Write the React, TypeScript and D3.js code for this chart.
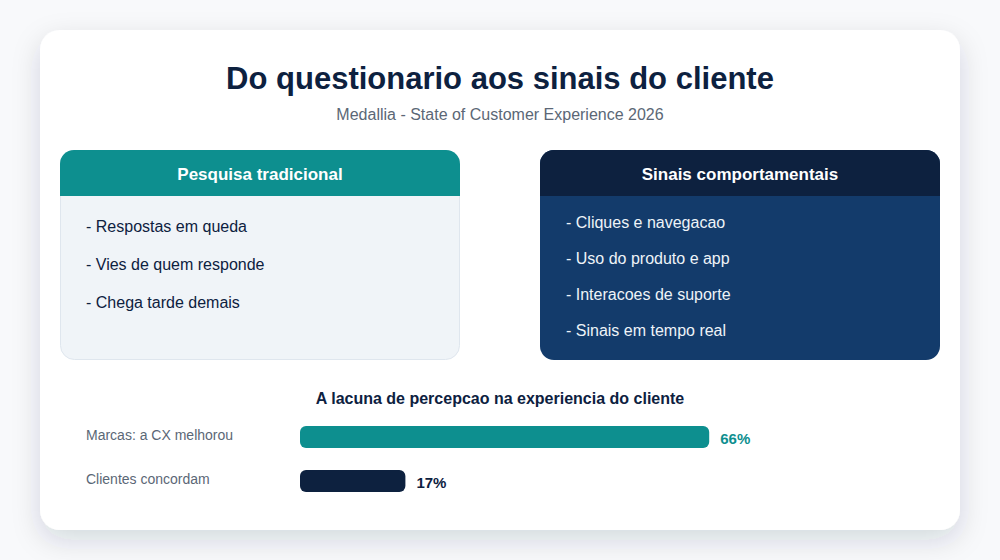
import React from "react";
import * as d3 from "d3";

const TITLE = "Do questionario aos sinais do cliente";
const SUBTITLE = "Medallia - State of Customer Experience 2026";
const LEFT_HEADER = "Pesquisa tradicional";
const RIGHT_HEADER = "Sinais comportamentais";
const leftItems = ["- Respostas em queda", "- Vies de quem responde", "- Chega tarde demais"];
const rightItems = ["- Cliques e navegacao", "- Uso do produto e app", "- Interacoes de suporte", "- Sinais em tempo real"];
const GAP_TITLE = "A lacuna de percepcao na experiencia do cliente";
const gapLabels = ["Marcas: a CX melhorou", "Clientes concordam"];
const gapValues = [66, 17];

const TEAL = "#0d8f8f";
const NAVY = "#0d213f";
const BLUE = "#133b6b";
const GREY = "#5b6776";
const FONT = '"Liberation Sans", Arial, Helvetica, sans-serif';

const barColors = [TEAL, NAVY];

function topRounded(x: number, y: number, w: number, h: number, r: number) {
  const p = d3.path();
  p.moveTo(x, y + h);
  p.lineTo(x, y + r);
  p.arcTo(x, y, x + r, y, r);
  p.lineTo(x + w - r, y);
  p.arcTo(x + w, y, x + w, y + r, r);
  p.lineTo(x + w, y + h);
  p.closePath();
  return p.toString();
}

export default function App() {
  const xScale = d3.scaleLinear().domain([0, 100]).range([300, 920]);
  const yScale = d3.scaleBand<string>().domain(gapLabels).range([426, 492]).paddingInner(0.5);
  const bh = yScale.bandwidth();

  return (
    <svg
      width={1000}
      height={560}
      viewBox="0 0 1000 560"
      style={{ position: "absolute", left: 0, top: 0, display: "block" }}
      fontFamily={FONT}
    >
      <defs>
        <filter id="cardShadow" x="-10%" y="-10%" width="120%" height="130%">
          <feDropShadow dx="0" dy="10" stdDeviation="14" floodColor="#0d213f" floodOpacity="0.15" />
        </filter>
      </defs>
      <rect x={0} y={0} width={1000} height={560} fill="#f8f9fb" />
      <rect x={40} y={30} width={920} height={500} rx={20} fill="#ffffff" filter="url(#cardShadow)" />

      <text x={500} y={88.5} textAnchor="middle" fontSize={31} fontWeight={700} fill={NAVY}>{TITLE}</text>
      <text x={500} y={120} textAnchor="middle" fontSize={16} fill={GREY}>{SUBTITLE}</text>

      {/* left panel */}
      <rect x={60.5} y={150.5} width={399} height={209} rx={14} fill="#f0f4f8" stroke="#dfe6ee" />
      <path d={topRounded(60, 150, 400, 46, 14)} fill={TEAL} />
      <text x={260} y={180} textAnchor="middle" fontSize={17} fontWeight={700} fill="#ffffff">{LEFT_HEADER}</text>
      {leftItems.map((t, i) => (
        <text key={t} x={86} y={232 + i * 38} fontSize={16} fill={NAVY}>{t}</text>
      ))}

      {/* right panel */}
      <rect x={540} y={150} width={400} height={210} rx={14} fill={BLUE} />
      <path d={topRounded(540, 150, 400, 46, 14)} fill={NAVY} />
      <text x={740} y={180} textAnchor="middle" fontSize={17} fontWeight={700} fill="#ffffff">{RIGHT_HEADER}</text>
      {rightItems.map((t, i) => (
        <text key={t} x={566} y={228 + i * 36} fontSize={16} fill="#eef3f8">{t}</text>
      ))}

      {/* gap chart */}
      <text x={500} y={404} textAnchor="middle" fontSize={16} fontWeight={700} fill={NAVY}>{GAP_TITLE}</text>
      {gapLabels.map((l, i) => {
        const x1 = xScale(gapValues[i]);
        const y = yScale(l) as number;
        return (
          <g key={l}>
            <text x={86} y={y + 14} fontSize={14} fill={GREY}>{l}</text>
            <rect x={xScale(0)} y={y} width={x1 - xScale(0)} height={bh} rx={6} fill={barColors[i]} />
            <text x={x1 + 11} y={y + 18} fontSize={15} fontWeight={700} fill={barColors[i]}>{gapValues[i]}%</text>
          </g>
        );
      })}
    </svg>
  );
}
